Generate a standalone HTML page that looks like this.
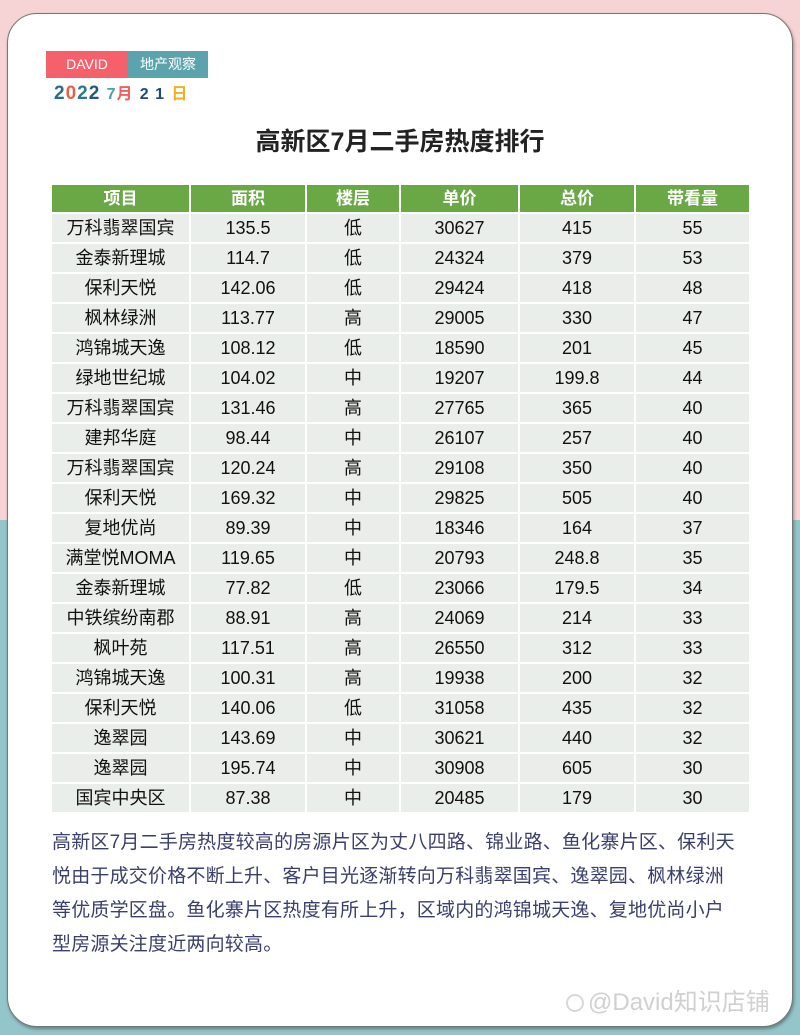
<!DOCTYPE html>
<html><head><meta charset="utf-8"><style>
*{margin:0;padding:0;box-sizing:border-box}
body{width:800px;height:1035px;position:relative;overflow:hidden;font-family:"Liberation Sans","Noto Sans CJK SC",sans-serif;background:linear-gradient(#f6d3d4 0,#f6d3d4 520px,#94c5ca 520px)}
.card{position:absolute;left:7px;top:13px;width:786px;height:1014px;background:#fff;border-radius:30px;border:1px solid #777;box-shadow:1px 2px 3px rgba(0,0,0,.35)}
.tag{position:absolute;top:51px;height:27px;color:#fff;font-size:14px;line-height:27px;text-align:center}
.date{position:absolute;left:54px;top:82px;font-size:19px;font-weight:bold;letter-spacing:1px;line-height:24px}
h1{position:absolute;left:0;width:800px;top:124px;text-align:center;font-size:25px;font-weight:bold;color:#222;line-height:36px}
table{position:absolute;left:50px;top:183px;border-collapse:collapse}
td,th{border:2px solid #fff;text-align:center;padding:0;font-size:18px;color:#111;line-height:26px}
th{background:#6aa846;color:#fff;height:29px;font-size:17px}
td{background:#eaeeea;height:30px;font-weight:normal}
p{position:absolute;left:52px;top:826px;width:740px;font-size:19px;letter-spacing:0.2px;line-height:34px;color:#3b3f6b;white-space:nowrap}
.wm{position:absolute;left:588px;top:988px;font-size:24px;line-height:30px;color:#d0d0d0}
.paw{position:absolute;left:566px;top:994px;width:18px;height:18px;border:2px solid #d8d8d8;border-radius:50%}
</style></head><body>
<div class="card"></div>
<div class="tag" style="left:46px;width:82px;background:#f6606a">DAVID</div>
<div class="tag" style="left:128px;width:80px;background:#5ba4ae">地产观察</div>
<div class="date"><span style="color:#2a6a8a">2</span><span style="color:#e8604a">0</span><span style="color:#2a7a8a">2</span><span style="color:#1e5a7a">2</span> <span style="color:#4aa0b0;font-size:16px">7</span><span style="color:#f06060;font-size:16px">月</span> <span style="color:#1e4a7a;font-size:16px">2 1</span> <span style="color:#f0b020;font-size:16px">日</span></div>
<h1>高新区7月二手房热度排行</h1>
<table>
<tr><th style="width:139px">项目</th><th style="width:116px">面积</th><th style="width:94px">楼层</th><th style="width:119px">单价</th><th style="width:116px">总价</th><th style="width:115px">带看量</th></tr>
<tr><td>万科翡翠国宾</td><td>135.5</td><td>低</td><td>30627</td><td>415</td><td>55</td></tr>
<tr><td>金泰新理城</td><td>114.7</td><td>低</td><td>24324</td><td>379</td><td>53</td></tr>
<tr><td>保利天悦</td><td>142.06</td><td>低</td><td>29424</td><td>418</td><td>48</td></tr>
<tr><td>枫林绿洲</td><td>113.77</td><td>高</td><td>29005</td><td>330</td><td>47</td></tr>
<tr><td>鸿锦城天逸</td><td>108.12</td><td>低</td><td>18590</td><td>201</td><td>45</td></tr>
<tr><td>绿地世纪城</td><td>104.02</td><td>中</td><td>19207</td><td>199.8</td><td>44</td></tr>
<tr><td>万科翡翠国宾</td><td>131.46</td><td>高</td><td>27765</td><td>365</td><td>40</td></tr>
<tr><td>建邦华庭</td><td>98.44</td><td>中</td><td>26107</td><td>257</td><td>40</td></tr>
<tr><td>万科翡翠国宾</td><td>120.24</td><td>高</td><td>29108</td><td>350</td><td>40</td></tr>
<tr><td>保利天悦</td><td>169.32</td><td>中</td><td>29825</td><td>505</td><td>40</td></tr>
<tr><td>复地优尚</td><td>89.39</td><td>中</td><td>18346</td><td>164</td><td>37</td></tr>
<tr><td>满堂悦MOMA</td><td>119.65</td><td>中</td><td>20793</td><td>248.8</td><td>35</td></tr>
<tr><td>金泰新理城</td><td>77.82</td><td>低</td><td>23066</td><td>179.5</td><td>34</td></tr>
<tr><td>中铁缤纷南郡</td><td>88.91</td><td>高</td><td>24069</td><td>214</td><td>33</td></tr>
<tr><td>枫叶苑</td><td>117.51</td><td>高</td><td>26550</td><td>312</td><td>33</td></tr>
<tr><td>鸿锦城天逸</td><td>100.31</td><td>高</td><td>19938</td><td>200</td><td>32</td></tr>
<tr><td>保利天悦</td><td>140.06</td><td>低</td><td>31058</td><td>435</td><td>32</td></tr>
<tr><td>逸翠园</td><td>143.69</td><td>中</td><td>30621</td><td>440</td><td>32</td></tr>
<tr><td>逸翠园</td><td>195.74</td><td>中</td><td>30908</td><td>605</td><td>30</td></tr>
<tr><td>国宾中央区</td><td>87.38</td><td>中</td><td>20485</td><td>179</td><td>30</td></tr>
</table>
<p>高新区7月二手房热度较高的房源片区为丈八四路、锦业路、鱼化寨片区、保利天<br>悦由于成交价格不断上升、客户目光逐渐转向万科翡翠国宾、逸翠园、枫林绿洲<br>等优质学区盘。鱼化寨片区热度有所上升，区域内的鸿锦城天逸、复地优尚小户<br>型房源关注度近两向较高。</p>
<div class="paw"></div>
<div class="wm">@David知识店铺</div>
</body></html>
